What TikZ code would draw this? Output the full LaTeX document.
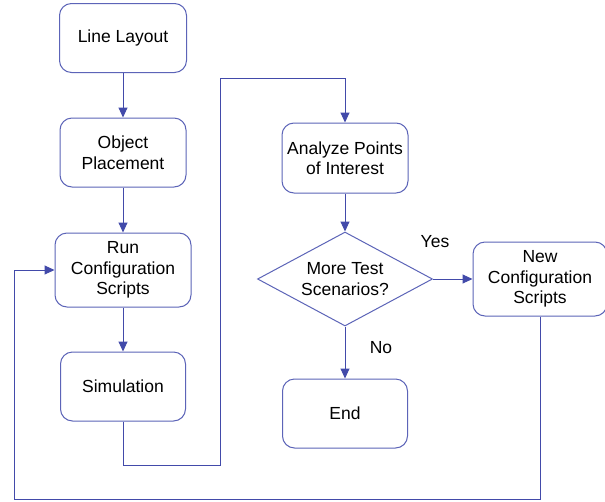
\documentclass[tikz,border=0pt]{standalone}
\usepackage{fontspec}
\setmainfont{Liberation Sans}
\usetikzlibrary{arrows.meta,shapes.geometric}
\definecolor{lineblue}{RGB}{66,74,170}
\definecolor{boxblue}{RGB}{92,100,184}
\tikzset{
  flowbox/.style={draw=boxblue, line width=1pt, rounded corners=12pt, align=center,
    inner sep=0pt, font=\fontsize{17.5}{20.5}\selectfont},
  decision/.style={draw=boxblue, line width=1pt, shape=diamond, aspect=1.86, align=center,
    inner sep=0pt, minimum width=175pt, minimum height=94pt, font=\fontsize{17.5}{20.5}\selectfont},
  conn/.style={draw=lineblue, line width=1pt},
  arr/.style={conn, -{Triangle[length=10pt,width=9pt]}},
  lbl/.style={font=\fontsize{17.5}{20.5}\selectfont, inner sep=0pt}
}
\begin{document}
\begin{tikzpicture}[x=1pt,y=-1pt]
\clip (0,0) rectangle (605,501);
\fill[white] (0,0) rectangle (605,501);

\node[flowbox, minimum width=127pt, minimum height=69pt] (ll) at (123,38) {Line Layout};
\node[flowbox, minimum width=126pt, minimum height=69pt] (op) at (123,152.5) {Object\\Placement};
\node[flowbox, minimum width=136pt, minimum height=74pt] (rc) at (123,270) {Run\\Configuration\\Scripts};
\node[flowbox, minimum width=125pt, minimum height=69pt] (sim) at (123,386.5) {Simulation};
\node[flowbox, minimum width=126pt, minimum height=70pt] (an) at (345,158) {Analyze Points\\of Interest};
\node[decision] (dia) at (345,279) {More Test\\Scenarios?};
\node[flowbox, minimum width=134pt, minimum height=74pt] (nc) at (540,279) {New\\Configuration\\Scripts};
\node[flowbox, minimum width=125pt, minimum height=69pt] (end) at (345,413.5) {End};

\node[lbl] (yes) at (435,242) {Yes};
\node[lbl] (no) at (381,348) {No};

\coordinate (s1) at (123,465);
\coordinate (s2) at (220,465);
\coordinate (s3) at (220,78);
\coordinate (s4) at (345,78);
\coordinate (f1) at (540,499.5);
\coordinate (f2) at (14,499.5);
\coordinate (f3) at (14,270);

\draw[arr] (ll.south) -- (op.north);
\draw[arr] (op.south) -- (rc.north);
\draw[arr] (rc.south) -- (sim.north);
\draw[arr] (sim.south) -- (s1) -- (s2) -- (s3) -- (s4) -- (an.north);
\draw[arr] (an.south) -- (dia.north);
\draw[arr] (dia.east) -- (nc.west);
\draw[arr] (dia.south) -- (end.north);
\draw[arr] (nc.south) -- (f1) -- (f2) -- (f3) -- (rc.west);
\end{tikzpicture}
\end{document}
